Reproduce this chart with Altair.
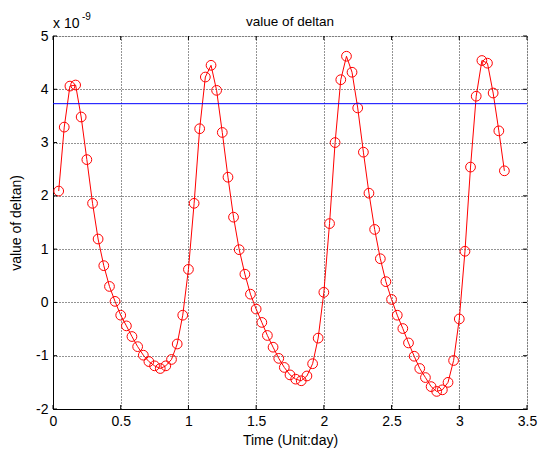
import altair as alt
import pandas as pd

# Hourly samples of deltan (time in days, values in units of 1e-9)
time_day = [
    0.042, 0.083, 0.125, 0.167, 0.208, 0.250, 0.292, 0.333, 0.375, 0.417,
    0.458, 0.500, 0.542, 0.583, 0.625, 0.667, 0.708, 0.750, 0.792, 0.833,
    0.875, 0.917, 0.958, 1.000, 1.042, 1.083, 1.125, 1.167, 1.208, 1.250,
    1.292, 1.333, 1.375, 1.417, 1.458, 1.500, 1.542, 1.583, 1.625, 1.667,
    1.708, 1.750, 1.792, 1.833, 1.875, 1.917, 1.958, 2.000, 2.042, 2.083,
    2.125, 2.167, 2.208, 2.250, 2.292, 2.333, 2.375, 2.417, 2.458, 2.500,
    2.542, 2.583, 2.625, 2.667, 2.708, 2.750, 2.792, 2.833, 2.875, 2.917,
    2.958, 3.000, 3.042, 3.083, 3.125, 3.167, 3.208, 3.250, 3.292, 3.333,
]
deltan = [
    2.09, 3.29, 4.06, 4.08, 3.48, 2.68, 1.86, 1.19, 0.69, 0.30,
    0.02, -0.24, -0.44, -0.64, -0.83, -0.99, -1.11, -1.19, -1.24, -1.19,
    -1.07, -0.78, -0.24, 0.62, 1.86, 3.26, 4.23, 4.45, 3.98, 3.19,
    2.35, 1.60, 0.99, 0.53, 0.155, -0.125, -0.375, -0.62, -0.84, -1.05,
    -1.22, -1.36, -1.44, -1.47, -1.38, -1.15, -0.67, 0.19, 1.48, 3.00,
    4.18, 4.62, 4.32, 3.65, 2.82, 2.05, 1.37, 0.82, 0.39, 0.056,
    -0.24, -0.49, -0.76, -1.01, -1.24, -1.41, -1.58, -1.67, -1.64, -1.50,
    -1.09, -0.31, 0.96, 2.54, 3.87, 4.54, 4.49, 3.93, 3.22, 2.47,
]
threshold = [3.73]

x_ticks = [0, 0.5, 1, 1.5, 2, 2.5, 3, 3.5]
y_ticks = [-2, -1, 0, 1, 2, 3, 4, 5]

W, H = 474, 373
FONT = "Liberation Sans"
FS = 14

df = pd.DataFrame({"t": time_day, "v": deltan})
thr = pd.DataFrame({"v": threshold})
xt = pd.DataFrame({"x": x_ticks})
yt = pd.DataFrame({"y": y_ticks})

xscale = alt.Scale(domain=[0, 3.5], nice=False, zero=False)
yscale = alt.Scale(domain=[-2, 5], nice=False, zero=False)

grid_style = dict(
    grid=True, gridColor="black", gridDash=[1, 2], gridOpacity=0.85, gridWidth=1,
    domain=True, domainColor="black", domainWidth=1,
    ticks=False, labelFont=FONT, labelFontSize=FS, labelColor="black",
    labelExpr="datum.value + ''",
    titleFont=FONT, titleFontSize=FS, titleFontWeight="normal", titleColor="black",
)

x_enc = alt.X(
    "t:Q", scale=xscale,
    axis=alt.Axis(values=x_ticks, labelPadding=5, title="Time (Unit:day)",
                  titleX=W / 2, titleY=31, titleBaseline="middle",
                  labelFlush=False, **grid_style),
)
y_enc = alt.Y(
    "v:Q", scale=yscale,
    axis=alt.Axis(values=y_ticks, labelPadding=5, title="value of deltan)",
                  titleX=-37, titleY=H / 2, titleAngle=270, titleAlign="center",
                  titleBaseline="middle", labelFlush=False, **grid_style),
)

line = alt.Chart(df).mark_line(color="red", strokeWidth=1).encode(x=x_enc, y=y_enc)
pts = alt.Chart(df).mark_point(
    shape="circle", size=95, color="red", filled=False, strokeWidth=1, opacity=1
).encode(x=alt.X("t:Q", scale=xscale), y=alt.Y("v:Q", scale=yscale))

hline = alt.Chart(thr).mark_rule(color="#0000ff", strokeWidth=1).encode(
    y=alt.Y("v:Q", scale=yscale), x=alt.value(0), x2=alt.value(W)
)

# inward tick marks on all four sides
tick_len = 4
xb = alt.Chart(xt).mark_rule(color="black").encode(
    x=alt.X("x:Q", scale=xscale), y=alt.value(H), y2=alt.value(H - tick_len))
xtop = alt.Chart(xt).mark_rule(color="black").encode(
    x=alt.X("x:Q", scale=xscale), y=alt.value(0), y2=alt.value(tick_len))
yl = alt.Chart(yt).mark_rule(color="black").encode(
    y=alt.Y("y:Q", scale=yscale), x=alt.value(0), x2=alt.value(tick_len))
yr = alt.Chart(yt).mark_rule(color="black").encode(
    y=alt.Y("y:Q", scale=yscale), x=alt.value(W), x2=alt.value(W - tick_len))

# exponent annotation above the y axis
exp_base = alt.Chart(thr).mark_text(
    text="x 10", font=FONT, fontSize=FS, align="left", baseline="alphabetic", color="black"
).encode(x=alt.value(0), y=alt.value(-8))
exp_pow = alt.Chart(thr).mark_text(
    text="-9", font=FONT, fontSize=10, align="left", baseline="alphabetic", color="black"
).encode(x=alt.value(29), y=alt.value(-16))

# plot title
title = alt.Chart(thr).mark_text(
    text="value of deltan", font=FONT, fontSize=13.5, align="center",
    baseline="alphabetic", color="black"
).encode(x=alt.value(W / 2), y=alt.value(-10))

chart = alt.layer(
    line, pts, hline, xb, xtop, yl, yr, exp_base, exp_pow, title
).properties(
    width=W, height=H,
    autosize=alt.AutoSizeParams(type="none"),
    padding={"left": 53, "top": 36, "right": 15, "bottom": 40},
).configure_view(
    stroke="black", strokeWidth=1
).configure(background="white")

chart.save("out.html", embed_options={"renderer": "svg", "actions": False})
